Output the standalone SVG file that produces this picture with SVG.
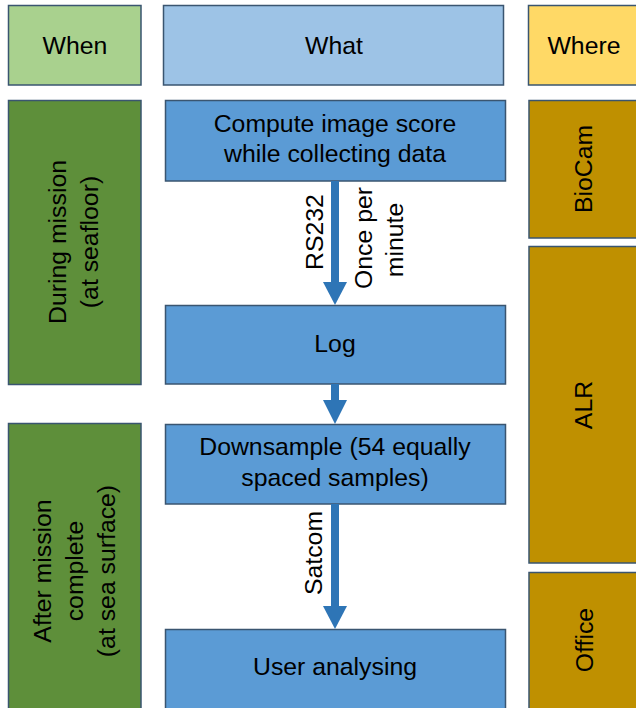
<svg xmlns="http://www.w3.org/2000/svg" width="636" height="708" viewBox="0 0 636 708">
<defs>
<style>
.box{stroke:#3A5570;stroke-width:1.5}
.when{fill:#A9D18E}.what{fill:#9DC3E6}.where{fill:#FFD966}
.green{fill:#5E8F3A}.blue{fill:#5B9BD5}.gold{fill:#BF9000}
text{font-family:"Liberation Sans",Arial,sans-serif;font-size:24.8px;fill:#000;text-anchor:middle}
.shaft{fill:#2E75B6}
</style>
</defs>
<rect width="636" height="708" fill="#fff"/>
<g id="hdr-when"><rect class="box when" x="8.5" y="5.5" width="132.5" height="79.5"/><text x="75" y="54">When</text></g>
<g id="hdr-what"><rect class="box what" x="163.5" y="5.5" width="340" height="79.5"/><text x="334" y="54">What</text></g>
<g id="hdr-where"><rect class="box where" x="528.5" y="5.5" width="115" height="79.5"/><text x="584" y="54">Where</text></g>

<g id="when-during"><rect class="box green" x="8.5" y="100.5" width="132.5" height="284"/>
<text transform="translate(66,242) rotate(-90)">During mission</text>
<text transform="translate(98,242) rotate(-90)">(at seafloor)</text></g>
<g id="when-after"><rect class="box green" x="8.5" y="423.5" width="132.5" height="300"/>
<text transform="translate(51,571) rotate(-90)">After mission</text>
<text transform="translate(83,571) rotate(-90)">complete</text>
<text transform="translate(115,571) rotate(-90)">(at sea surface)</text></g>

<g id="what-compute"><rect class="box blue" x="165.5" y="100.5" width="340" height="80.5"/>
<text x="335" y="132">Compute image score</text><text x="335" y="162">while collecting data</text></g>
<g id="what-log"><rect class="box blue" x="165.5" y="305.5" width="340" height="78.5"/><text x="335" y="352">Log</text></g>
<g id="what-down"><rect class="box blue" x="165.5" y="424.5" width="340" height="79.5"/>
<text x="335" y="455">Downsample (54 equally</text><text x="335" y="486">spaced samples)</text></g>
<g id="what-user"><rect class="box blue" x="165.5" y="629.5" width="340" height="100"/><text x="335" y="675">User analysing</text></g>

<g id="where-biocam"><rect class="box gold" x="529" y="100.5" width="115" height="137.5"/>
<text transform="translate(592,169) rotate(-90)">BioCam</text></g>
<g id="where-alr"><rect class="box gold" x="529" y="246.5" width="115" height="316.5"/>
<text transform="translate(592,405) rotate(-90)">ALR</text></g>
<g id="where-office"><rect class="box gold" x="529" y="572.5" width="115" height="150"/>
<text transform="translate(593,640) rotate(-90)">Office</text></g>

<g id="connectors">
<rect class="shaft" x="331" y="181" width="8" height="102"/>
<polygon class="shaft" points="323,282 347,282 335,305"/>
<rect class="shaft" x="331" y="384" width="8" height="17"/>
<polygon class="shaft" points="323,400 347,400 335,424"/>
<rect class="shaft" x="331" y="504" width="8" height="104"/>
<polygon class="shaft" points="323,606 347,606 335,629"/>
<text transform="translate(323,232) rotate(-90)">RS232</text>
<text transform="translate(372,238) rotate(-90)">Once per</text>
<text transform="translate(403,240) rotate(-90)">minute</text>
<text transform="translate(322,553) rotate(-90)">Satcom</text>
</g>
</svg>
